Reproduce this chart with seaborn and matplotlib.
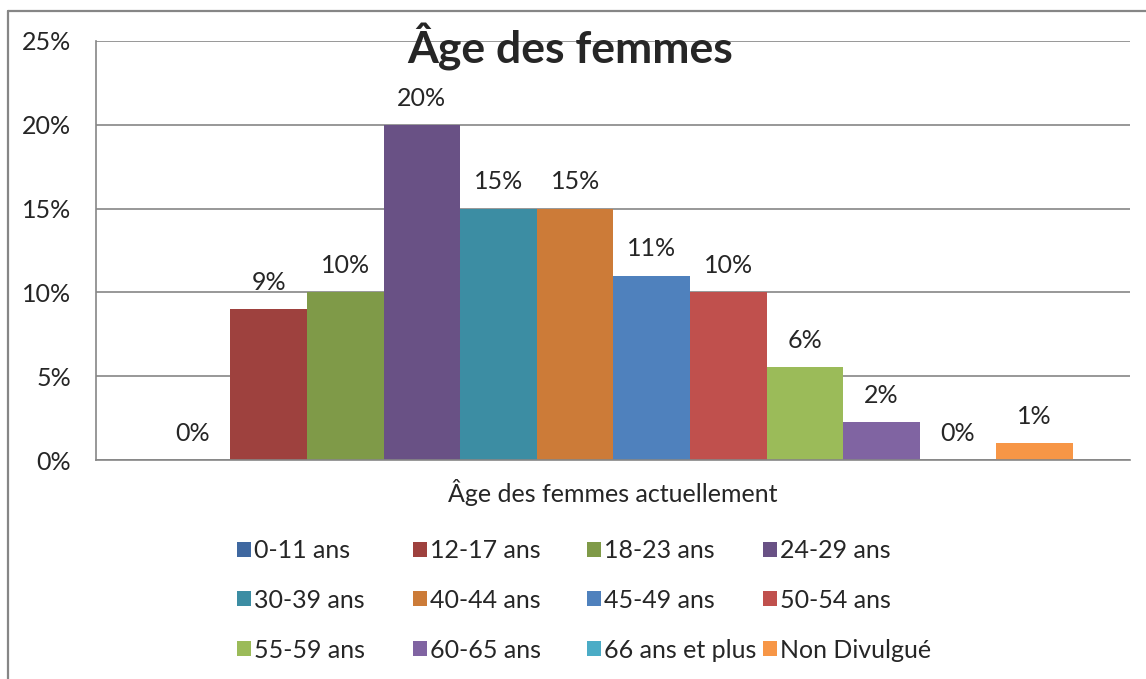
import matplotlib
matplotlib.use("Agg")
import matplotlib.pyplot as plt
import seaborn as sns
import pandas as pd
from matplotlib.patches import Patch
from matplotlib.lines import Line2D

# data
age_groups = ['0-11 ans', '12-17 ans', '18-23 ans', '24-29 ans',
              '30-39 ans', '40-44 ans', '45-49 ans', '50-54 ans',
              '55-59 ans', '60-65 ans', '66 ans et plus', 'Non Divulgué']
shares = [0.0, 0.09, 0.10, 0.20, 0.15, 0.15, 0.11, 0.10, 0.0555, 0.0225, 0.0, 0.01]
colors = ['#3F68A0', '#9E413E', '#7F9A48', '#695185', '#3C8DA3', '#CC7B38',
          '#4F81BD', '#C0504D', '#9BBB59', '#8064A2', '#4BACC6', '#F79646']
y_ticks = [0, 0.05, 0.10, 0.15, 0.20, 0.25]

df = pd.DataFrame({'age': age_groups, 'share': shares})

sns.set_style('white')
plt.rcParams['font.family'] = ['Lato', 'DejaVu Sans']
grey = '#868686'
fs = 18

W, H = 1146, 679
fig = plt.figure(figsize=(W / 100, H / 100), dpi=100)

# chart-area frame (left and top edges visible)
fig.add_artist(Line2D([8 / W, 8 / W], [0, 1 - 11 / H], transform=fig.transFigure,
                      color=grey, lw=1.6))
fig.add_artist(Line2D([8 / W, 1], [1 - 11 / H, 1 - 11 / H], transform=fig.transFigure,
                      color=grey, lw=1.6))

ax = fig.add_axes([96 / W, 1 - 460 / H, (1130 - 96) / W, (460 - 41) / H])
sns.barplot(data=df, x='age', y='share', hue='age', palette=colors,
            width=1.0, legend=False, ax=ax, saturation=1, linewidth=0)

for c in ax.containers:
    ax.bar_label(c, fmt='{:.0%}', padding=11, fontsize=fs)

xmin, xmax = -1.255, 12.245
ax.set_xlim(xmin, xmax)
ax.set_ylim(0, 0.25)
ax.set_yticks(y_ticks)
ax.set_yticklabels([f'{t:.0%}' for t in y_ticks], fontsize=fs)
ax.set_xticks([xmin, xmax])
ax.set_xticklabels(['', ''])
ax.tick_params(axis='both', direction='out', color=grey, width=1.2, length=6)
ax.tick_params(axis='y', length=6, pad=12)
ax.yaxis.grid(True, color=grey, lw=1.2)
ax.set_axisbelow(True)
for s in ['top', 'right']:
    ax.spines[s].set_visible(False)
for s in ['left', 'bottom']:
    ax.spines[s].set_color(grey)
    ax.spines[s].set_linewidth(1.2)

ax.set_ylabel('')
ax.set_xlabel('Âge des femmes actuellement', fontsize=fs)
ax.xaxis.set_label_coords(0.5, -33 / 419)
ax.xaxis.label.set_va('center')

fig.text(570 / W, 1 - 47 / H, 'Âge des femmes', fontsize=32, fontweight='bold',
         ha='center', va='center')

# legend: 4 columns of 3 rows, drawn as separate column legends
col_x = [237, 413, 587, 763]
for j, x in enumerate(col_x):
    idx = [j, j + 4, j + 8]
    handles = [Patch(facecolor=colors[i], edgecolor='none') for i in idx]
    labels = [age_groups[i] for i in idx]
    fig.legend(handles, labels, loc='upper left',
               bbox_to_anchor=(x / W, 1 - 539 / H), bbox_transform=fig.transFigure,
               frameon=False, fontsize=fs, handlelength=0.55, handleheight=0.55,
               handletextpad=0.15, labelspacing=1.07, borderpad=0, borderaxespad=0)

fig.savefig('out.png', dpi=100, facecolor='white')
